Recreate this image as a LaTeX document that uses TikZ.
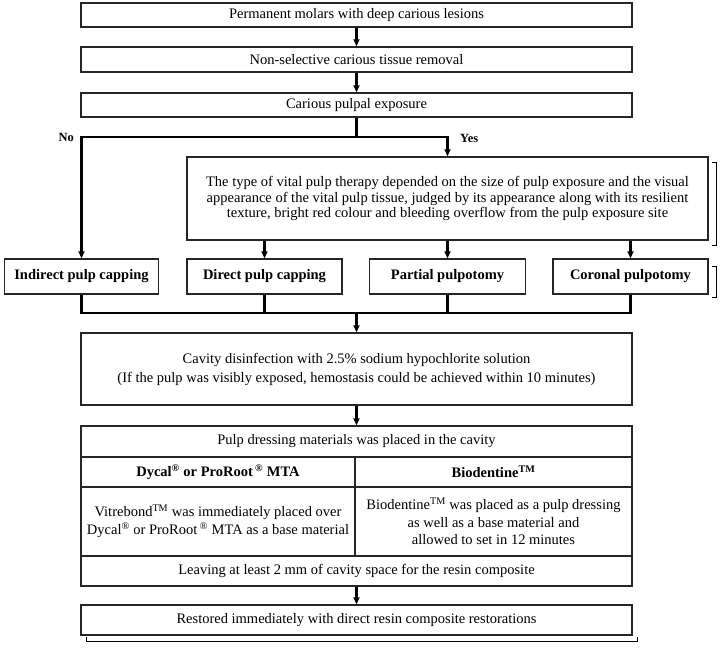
\documentclass[tikz,border=0pt]{standalone}
\usepackage{fontspec}
\setmainfont{Liberation Serif}
\usetikzlibrary{arrows.meta}
\begin{document}
\begin{tikzpicture}[x=1pt,y=-1pt,
  box/.style={draw=black!85, line width=1.4pt, rectangle, inner sep=0pt, align=center,
    font=\fontsize{14.5}{15.7}\selectfont},
  bbox/.style={box, font=\bfseries\fontsize{14.5}{15.7}\selectfont},
  line/.style={line width=2.4pt},
  conn/.style={line width=2.4pt, -{Triangle[length=7pt,width=6pt]}},
  brk/.style={line width=1pt},
  lab/.style={font=\bfseries\fontsize{12.5}{14}\selectfont, inner sep=0pt}
]
\useasboundingbox (0,0) rectangle (726,650);

% top chain
\node[box, minimum width=551pt, minimum height=24pt] (b1) at (356.5,15) {Permanent molars with deep carious lesions};
\node[box, minimum width=551pt, minimum height=25pt] (b2) at (356.5,59.5) {Non-selective carious tissue removal};
\node[box, minimum width=551pt, minimum height=24pt] (b3) at (356.5,105) {Carious pulpal exposure};

\draw[conn] (b1) -- (b2);
\draw[conn] (b2) -- (b3);

% decision
\coordinate (j) at (356.5,137);
\node[box, minimum width=521pt, minimum height=83pt] (b4) at (447.5,198.5)
  {The type of vital pulp therapy depended on the size of pulp exposure and the visual\\
   appearance of the vital pulp tissue, judged by its appearance along with its resilient\\
   texture, bright red colour and bleeding overflow from the pulp exposure site};

\node[bbox, minimum width=154pt, minimum height=35pt] (ind) at (81.5,276.5) {Indirect pulp capping};
\node[bbox, minimum width=155pt, minimum height=35pt] (dir) at (264.5,276.5) {Direct pulp capping};
\node[bbox, minimum width=156pt, minimum height=35pt] (par) at (447.5,276.5) {Partial pulpotomy};
\node[bbox, minimum width=155pt, minimum height=35pt] (cor) at (630.5,276.5) {Coronal pulpotomy};

\draw[line] (b3) -- (j);
\draw[conn] (j) -| (ind);
\draw[conn] (j) -| (b4);
\node[lab, anchor=east] (no) at (74,137) {No};
\node[lab, anchor=west] (yes) at (460,138) {Yes};

\draw[conn] (b4.south -| dir) -- (dir);
\draw[conn] (b4.south -| par) -- (par);
\draw[conn] (b4.south -| cor) -- (cor);

% join
\coordinate (k) at (356.5,313);
\draw[line] (ind) |- (k);
\draw[line] (cor) |- (k);
\draw[line] (dir) -- (dir |- k);
\draw[line] (par) -- (par |- k);

\node[box, minimum width=551pt, minimum height=72pt, font=\fontsize{14.5}{19}\selectfont] (cav) at (356.5,369)
  {Cavity disinfection with 2.5\% sodium hypochlorite solution\\
   (If the pulp was visibly exposed, hemostasis could be achieved within 10 minutes)};
\draw[conn] (k) -- (cav);

% table
\node[box, minimum width=551pt, minimum height=31pt] (t1) at (356.5,441.5) {Pulp dressing materials was placed in the cavity};
\node[bbox, minimum width=274pt, minimum height=30pt] (hL) at (218,472) {Dycal\textsuperscript{®} or ProRoot\,\textsuperscript{®} MTA};
\node[bbox, minimum width=277pt, minimum height=30pt] (hR) at (493.5,472) {Biodentine\textsuperscript{TM}};
\node[box, minimum width=274pt, minimum height=69pt, font=\fontsize{14.5}{18}\selectfont] (cL) at (218,521.5)
  {Vitrebond\textsuperscript{TM} was immediately placed over\\ Dycal\textsuperscript{®} or ProRoot\,\textsuperscript{®} MTA as a base material};
\node[box, minimum width=277pt, minimum height=69pt, font=\fontsize{14.5}{17.5}\selectfont] (cR) at (493.5,521.5)
  {Biodentine\textsuperscript{TM} was placed as a pulp dressing\\ as well as a base material and\\ allowed to set in 12 minutes};
\node[box, minimum width=551pt, minimum height=30pt] (t4) at (356.5,571) {Leaving at least 2 mm of cavity space for the resin composite};
\draw[conn] (cav) -- (t1);

\node[box, minimum width=551pt, minimum height=30pt] (rest) at (356.5,620) {Restored immediately with direct resin composite restorations};
\draw[conn] (t4) -- (rest);

% brackets
\draw[brk] (712,163) -- (716,163) -- (716,245) -- (712,245);
\draw[brk] (712,266) -- (716,266) -- (716,297) -- (712,297);
\draw[brk] (86,637) -- (86,641) -- (637,641) -- (637,637);
\end{tikzpicture}
\end{document}
